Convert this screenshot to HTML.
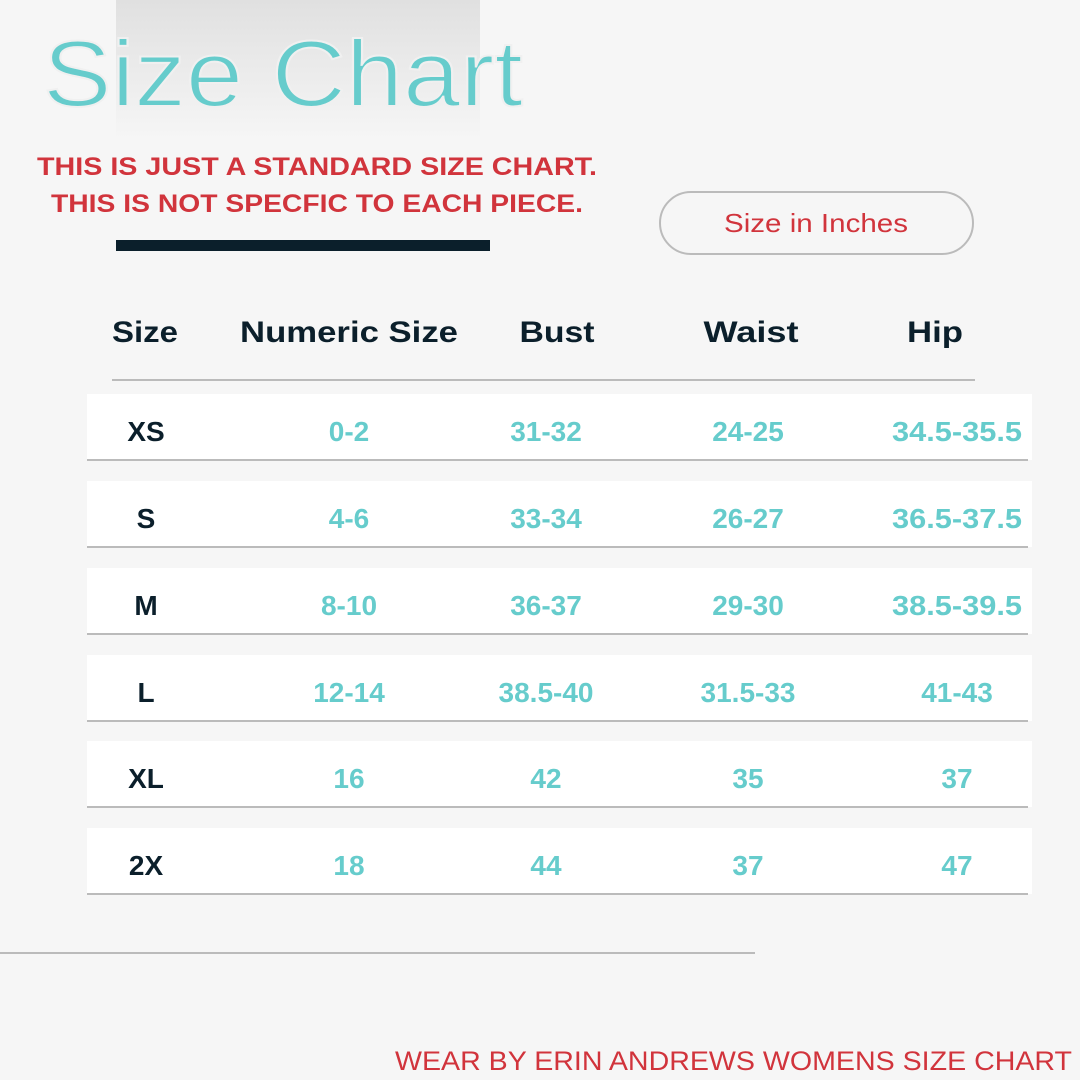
<!DOCTYPE html>
<html><head><meta charset="utf-8"><style>
html,body{margin:0;padding:0;background:#f6f6f6;}
svg{display:block;font-family:"Liberation Sans",sans-serif;}
</style></head><body>
<svg width="1080" height="1080" viewBox="0 0 1080 1080" xmlns="http://www.w3.org/2000/svg">
<defs><linearGradient id="g" x1="0" y1="0" x2="0" y2="1"><stop offset="0" stop-color="#e0e0e0"/><stop offset="1" stop-color="#f6f6f6"/></linearGradient></defs>
<rect width="1080" height="1080" fill="#f6f6f6"/>
<rect x="116" y="0" width="364" height="140" fill="url(#g)"/>
<text x="43" y="106" font-size="94" fill="#66cccc" stroke="#f0f0f0" stroke-width="2" paint-order="normal" textLength="480" lengthAdjust="spacingAndGlyphs">Size Chart</text>
<g fill="#d1343c" font-weight="bold" font-size="25">
<text x="37" y="175" textLength="560" lengthAdjust="spacingAndGlyphs">THIS IS JUST A STANDARD SIZE CHART.</text>
<text x="51" y="212" textLength="532" lengthAdjust="spacingAndGlyphs">THIS IS NOT SPECFIC TO EACH PIECE.</text>
</g>
<rect x="116" y="240" width="374" height="11" fill="#0b1f2b"/>
<rect x="660" y="192" width="313" height="62" rx="31" fill="none" stroke="#bbb" stroke-width="2"/>
<text x="816" y="232" font-size="26" fill="#d1343c" text-anchor="middle" textLength="184" lengthAdjust="spacingAndGlyphs">Size in Inches</text>
<g font-weight="bold" font-size="30" fill="#0b1f2b" text-anchor="middle">
<text x="145" y="342" textLength="66" lengthAdjust="spacingAndGlyphs">Size</text>
<text x="349" y="342" textLength="218" lengthAdjust="spacingAndGlyphs">Numeric Size</text>
<text x="557" y="342" textLength="75" lengthAdjust="spacingAndGlyphs">Bust</text>
<text x="751" y="342" textLength="95" lengthAdjust="spacingAndGlyphs">Waist</text>
<text x="935" y="342" textLength="56" lengthAdjust="spacingAndGlyphs">Hip</text>
</g>
<rect x="112" y="379" width="863" height="2" fill="#bbb"/>
<g font-weight="bold" font-size="28" text-anchor="middle">
<g transform="translate(0,0)">
<rect x="87" y="394" width="945" height="66" fill="#fff"/><rect x="87" y="459" width="941" height="2" fill="#bbb"/>
<text x="146" y="441" fill="#0b1f2b">XS</text><text x="349" y="441" fill="#66cccc">0-2</text><text x="546" y="441" fill="#66cccc">31-32</text><text x="748" y="441" fill="#66cccc">24-25</text><text x="957" y="441" fill="#66cccc" textLength="130" lengthAdjust="spacingAndGlyphs">34.5-35.5</text>
</g>
<g transform="translate(0,87)">
<rect x="87" y="394" width="945" height="66" fill="#fff"/><rect x="87" y="459" width="941" height="2" fill="#bbb"/>
<text x="146" y="441" fill="#0b1f2b">S</text><text x="349" y="441" fill="#66cccc">4-6</text><text x="546" y="441" fill="#66cccc">33-34</text><text x="748" y="441" fill="#66cccc">26-27</text><text x="957" y="441" fill="#66cccc" textLength="130" lengthAdjust="spacingAndGlyphs">36.5-37.5</text>
</g>
<g transform="translate(0,174)">
<rect x="87" y="394" width="945" height="66" fill="#fff"/><rect x="87" y="459" width="941" height="2" fill="#bbb"/>
<text x="146" y="441" fill="#0b1f2b">M</text><text x="349" y="441" fill="#66cccc">8-10</text><text x="546" y="441" fill="#66cccc">36-37</text><text x="748" y="441" fill="#66cccc">29-30</text><text x="957" y="441" fill="#66cccc" textLength="130" lengthAdjust="spacingAndGlyphs">38.5-39.5</text>
</g>
<g transform="translate(0,261)">
<rect x="87" y="394" width="945" height="66" fill="#fff"/><rect x="87" y="459" width="941" height="2" fill="#bbb"/>
<text x="146" y="441" fill="#0b1f2b">L</text><text x="349" y="441" fill="#66cccc">12-14</text><text x="546" y="441" fill="#66cccc">38.5-40</text><text x="748" y="441" fill="#66cccc">31.5-33</text><text x="957" y="441" fill="#66cccc">41-43</text>
</g>
<g transform="translate(0,347)">
<rect x="87" y="394" width="945" height="66" fill="#fff"/><rect x="87" y="459" width="941" height="2" fill="#bbb"/>
<text x="146" y="441" fill="#0b1f2b">XL</text><text x="349" y="441" fill="#66cccc">16</text><text x="546" y="441" fill="#66cccc">42</text><text x="748" y="441" fill="#66cccc">35</text><text x="957" y="441" fill="#66cccc">37</text>
</g>
<g transform="translate(0,434)">
<rect x="87" y="394" width="945" height="66" fill="#fff"/><rect x="87" y="459" width="941" height="2" fill="#bbb"/>
<text x="146" y="441" fill="#0b1f2b">2X</text><text x="349" y="441" fill="#66cccc">18</text><text x="546" y="441" fill="#66cccc">44</text><text x="748" y="441" fill="#66cccc">37</text><text x="957" y="441" fill="#66cccc">47</text>
</g>
</g>
<rect x="0" y="952" width="755" height="2" fill="#bbb"/>
<text x="395" y="1070" font-size="27" fill="#d1343c" textLength="677" lengthAdjust="spacingAndGlyphs">WEAR BY ERIN ANDREWS WOMENS SIZE CHART</text>
</svg>
</body></html>
